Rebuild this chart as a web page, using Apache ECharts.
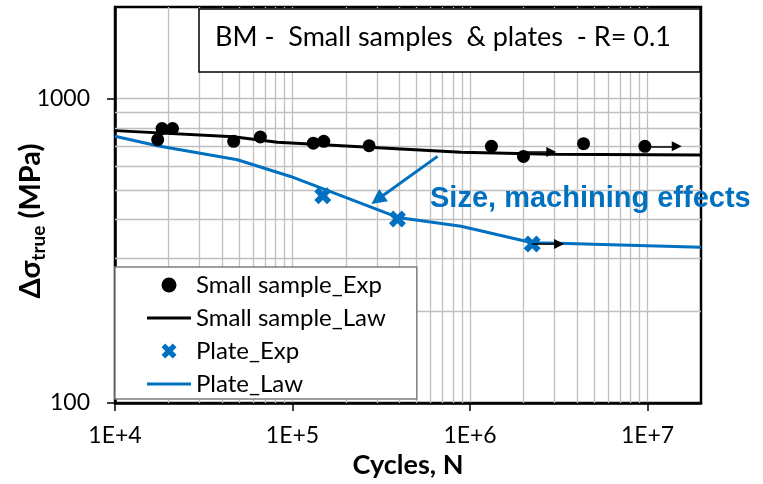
<!DOCTYPE html>
<html>
<head>
<meta charset="utf-8">
<script src="https://cdn.jsdelivr.net/npm/echarts@6/dist/echarts.min.js"></script>
<style>
html,body{margin:0;padding:0;background:#fff;}
#main{width:763px;height:484px;}
</style>
</head>
<body>
<div id="main"></div>
<script>
// small samples, experiments and fitted law
var smallExpN = [1.74e4, 1.84e4, 2.11e4, 4.66e4, 6.59e4, 1.31e5, 1.50e5, 2.70e5, 1.32e6, 2.0e6, 4.36e6, 9.66e6];
var smallExpS = [733, 797, 797, 724, 748, 714, 724, 700, 697, 646, 711, 697];
var smallLawN = [1e4, 4.64e4, 8.22e4, 2.69e5, 8.9e5, 2.87e6, 2e7];
var smallLawS = [785, 750, 719, 692, 667, 657, 653];
// plates
var plateExpN = [1.48e5, 3.90e5, 2.24e6];
var plateExpS = [480, 402, 333];
var plateLawN = [1e4, 1.73e4, 4.89e4, 9.75e4, 3.92e5, 8.9e5, 2.24e6, 3.14e6, 2e7];
var plateLawS = [752, 700, 630, 555, 407, 381, 336, 335, 325];
// run-outs (start N, stress, end N of arrow)
var runoutN = [2.0e6, 9.66e6, 2.24e6];
var runoutS = [668, 697, 333];
var runoutEnd = [2.87e6, 1.46e7, 3.17e6];
// annotation arrow
var noteFrom = [6.56e5, 646];
var noteTo = [3.01e5, 466];
// axes
var xTicks = [1e4, 1e5, 1e6, 1e7];
var yTicks = [100, 1000];
var minorX = [2e4, 3e4, 4e4, 5e4, 6e4, 7e4, 8e4, 9e4, 2e5, 3e5, 4e5, 5e5, 6e5, 7e5, 8e5, 9e5, 2e6, 3e6, 4e6, 5e6, 6e6, 7e6, 8e6, 9e6];
var minorY = [200, 300, 400, 500, 600, 700, 800, 900];

var BLUE = '#0070c0';
var GRID = '#bfbfbf';
var xMark = 'path://M0,4 L4,0 L8,4 L12,0 L16,4 L12,8 L16,12 L12,16 L8,12 L4,16 L0,12 L4,8 Z';
var lineIcon = 'path://M0,0 L44,0 L44,3 L0,3 Z';

function pairs(a, b){
	var out = [];
	for(var i = 0 ; i < a.length ; i++){
		out.push([a[i], b[i]]);
	}
	return out;
}

var gridLines = [];
minorX.forEach(function(v){ gridLines.push({xAxis: v}); });
minorY.forEach(function(v){ gridLines.push({yAxis: v}); });

var arrows = [];
for(var i = 0 ; i < runoutN.length ; i++){
	arrows.push([{coord: [runoutN[i], runoutS[i]]}, {coord: [runoutEnd[i], runoutS[i]]}]);
}

var myChart = echarts.init(document.getElementById('main'));
var option = {
	animation: false,
	grid: {left: 115, right: 62, top: 7, bottom: 81, show: true, borderColor: '#000', borderWidth: 2.5},
	xAxis: {
		type: 'log', logBase: 10, min: 1e4, max: 2e7,
		axisLine: {lineStyle: {color: '#000', width: 2.5}},
		axisTick: {length: 8, customValues: xTicks, lineStyle: {color: '#000', width: 1.5}},
		axisLabel: {
			customValues: xTicks, margin: 21, color: '#000', fontFamily: 'Lato', fontSize: 23,
			formatter: function(v){ return '1E+' + Math.round(Math.log10(v)); }
		},
		splitLine: {show: true, lineStyle: {color: GRID, width: 1.3}},
		name: 'Cycles, N', nameLocation: 'middle', nameGap: 49,
		nameTextStyle: {color: '#000', fontFamily: 'Lato', fontWeight: 'bold', fontSize: 27}
	},
	yAxis: {
		type: 'log', logBase: 10, min: 100, max: 2000,
		axisLine: {lineStyle: {color: '#000', width: 2.5}},
		axisTick: {length: 8, customValues: yTicks, lineStyle: {color: '#000', width: 1.5}},
		axisLabel: {
			customValues: yTicks, margin: 25, color: '#000', fontFamily: 'Lato', fontSize: 23,
			formatter: function(v){ return String(Math.round(v)); }
		},
		splitLine: {show: true, lineStyle: {color: GRID, width: 1.3}}
	},
	legend: {
		orient: 'vertical', left: 115, top: 267, z: 6,
		data: [
			{name: 'Small sample_Exp', icon: 'circle'},
			{name: 'Small sample_Law', icon: lineIcon},
			{name: 'Plate_Exp', icon: xMark},
			{name: 'Plate_Law', icon: lineIcon}
		],
		itemWidth: 44, itemHeight: 15, itemGap: 9,
		padding: [6, 31, 3, 32],
		backgroundColor: '#fff', borderColor: '#7f7f7f', borderWidth: 1.5, borderRadius: 0,
		textStyle: {color: '#000', fontFamily: 'Lato', fontSize: 24, lineHeight: 24}
	},
	graphic: [
		{type: 'rect', z: 10, shape: {x: 199, y: 9, width: 501, height: 63}, style: {fill: '#fff', stroke: '#000', lineWidth: 1.5}},
		{type: 'text', z: 11, x: 215, y: 37, style: {text: 'BM -  Small samples  & plates  - R= 0.1', fill: '#000', fontFamily: 'Lato', fontSize: 27, verticalAlign: 'middle'}},
		{type: 'text', z: 11, x: 430, y: 199, style: {text: 'Size, machining effects', fill: BLUE, fontFamily: 'Liberation Sans', fontWeight: 'bold', fontSize: 29, verticalAlign: 'middle'}},
		{type: 'text', z: 11, x: 31, y: 221, rotation: Math.PI / 2, style: {
			text: '{a|Δσ}{b|true}{a| (MPa)}', align: 'center', verticalAlign: 'middle', fill: '#000',
			rich: {
				a: {fontFamily: 'Lato', fontWeight: 'bold', fontSize: 29, lineHeight: 29, verticalAlign: 'middle'},
				b: {fontFamily: 'Lato', fontWeight: 'bold', fontSize: 19, lineHeight: 19, padding: [15, 0, 0, 0], verticalAlign: 'middle'}
			}
		}}
	],
	series: [
		{
			name: 'grid', type: 'line', data: [], z: 1, silent: true,
			markLine: {z: 1, silent: true, symbol: 'none', label: {show: false}, lineStyle: {color: GRID, width: 1.3, type: 'solid'}, data: gridLines}
		},
		{
			name: 'Small sample_Law', type: 'line', data: pairs(smallLawN, smallLawS),
			symbol: 'none', color: '#000', lineStyle: {color: '#000', width: 3}, z: 3
		},
		{
			name: 'Plate_Law', type: 'line', data: pairs(plateLawN, plateLawS),
			symbol: 'none', color: BLUE, lineStyle: {color: BLUE, width: 3}, z: 3
		},
		{
			name: 'Small sample_Exp', type: 'scatter', data: pairs(smallExpN, smallExpS),
			symbol: 'circle', symbolSize: 13, itemStyle: {color: '#000', opacity: 1}, z: 4
		},
		{
			name: 'Plate_Exp', type: 'scatter', data: pairs(plateExpN, plateExpS),
			symbol: xMark, symbolSize: 17, symbolKeepAspect: true, itemStyle: {color: BLUE, opacity: 1}, z: 4
		},
		{
			name: 'runouts', type: 'line', data: [], z: 5, silent: true,
			markLine: {z: 5, silent: true, symbol: ['none', 'triangle'], symbolSize: 10, label: {show: false},
				lineStyle: {color: '#000', width: 1.5, type: 'solid'}, data: arrows}
		},
		{
			name: 'note', type: 'line', data: [], z: 5, silent: true,
			markLine: {z: 5, silent: true, symbol: ['none', 'triangle'], symbolSize: 15, label: {show: false},
				lineStyle: {color: BLUE, width: 3, type: 'solid'},
				data: [[{coord: noteFrom}, {coord: noteTo}]]}
		}
	]
};
myChart.setOption(option);
</script>
</body>
</html>
